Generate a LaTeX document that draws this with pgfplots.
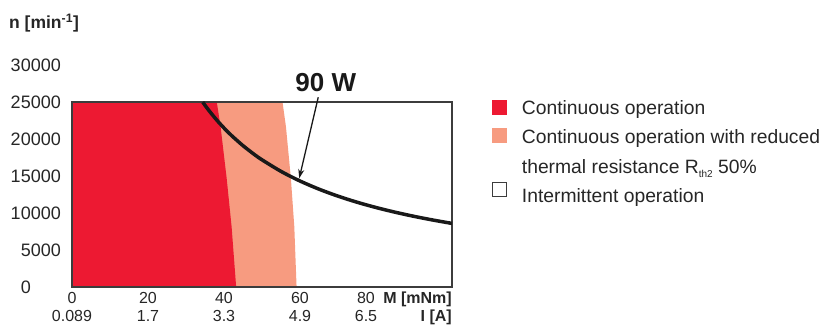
\documentclass[border=0pt]{standalone}
\usepackage{pgfplots}
\pgfplotsset{compat=1.18}
\usepackage{fontspec}
\setmainfont{Liberation Sans}
\usetikzlibrary{arrows.meta}
\definecolor{contred}{RGB}{237,25,50}
\definecolor{redsalmon}{RGB}{247,155,128}
\definecolor{framegray}{RGB}{60,60,60}
\definecolor{curveblack}{RGB}{25,25,25}
\begin{document}
\begin{tikzpicture}
\path[use as bounding box] (-72pt,-38pt) rectangle (753pt,287pt);
\begin{axis}[
  at={(0pt,0pt)}, anchor=south west,
  scale only axis, width=380pt, height=222pt,
  xmin=0, xmax=100, ymin=0, ymax=30000,
  axis line style={draw=none},
  major tick length=0pt,
  clip=false,
  xtick={0,20,40,60,80},
  xticklabels={0,20,40,60,{80\kern20pt}},
  ytick={0,5000,10000,15000,20000,25000,30000},
  yticklabels={{0\phantom{000}},5000,10000,15000,20000,25000,30000},
  yticklabel style={anchor=east, inner sep=0pt, xshift=-11pt, font=\fontsize{18}{20}\selectfont, text=black!85},
  xticklabel style={anchor=base, inner sep=0pt, yshift=-16.5pt, font=\fontsize{16}{18}\selectfont, text=black!85},
  extra x ticks={0,20,40,60,80},
  extra x tick labels={0.089,1.7,3.3,4.9,{6.5\kern20pt}},
  extra x tick style={grid=none, xticklabel style={yshift=-17.5pt}},
  /pgf/number format/assume math mode=true,
  scaled y ticks=false,
]
% continuous operation with reduced thermal resistance
\addplot[draw=none, fill=redsalmon] coordinates {
  (0,25000) (55.4,25000) (56.3,21670) (57.6,14700) (58.5,8150) (59.1,0)
} \closedcycle;
% continuous operation
\addplot[draw=none, fill=contred] coordinates {
  (0,25000) (38.1,25000) (39.1,21670) (40.7,14700) (42.0,8150) (43.2,0)
} \closedcycle;
% frame
\draw[framegray, line width=1.3pt] (axis cs:0,0) rectangle (axis cs:100,25000);
% 90 W limit
\addplot[curveblack, line width=3.5pt, smooth] coordinates {
  (34.4,24984) (36,23873) (38,22617) (40,21486) (42,20463) (45,19099)
  (48,17905) (50,17189) (55,15626) (60,14324) (65,13222) (70,12278)
  (75,11459) (80,10743) (85,10111) (90,9549) (95,9047) (100,8594)
};
\draw[curveblack, line width=1.3pt, -{Stealth[length=9pt,width=6pt]}] (axis cs:64.8,25635) -- (axis cs:59.8,14690);
\node[anchor=base, inner sep=0pt, font=\fontsize{26}{30}\selectfont\bfseries, text=curveblack] at (axis cs:66.8,26392) {90 W};
\end{axis}
% axis titles
\node[anchor=base west, inner sep=0pt, font=\fontsize{17.5}{20}\selectfont\bfseries, text=black!85] at (-63pt,258.7pt) {n [min\textsuperscript{-1}]};
\node[anchor=base east, inner sep=0pt, font=\fontsize{16}{18}\selectfont\bfseries, text=black!85] at (380pt,-16.5pt) {M [mNm]};
\node[anchor=base east, inner sep=0pt, font=\fontsize{16}{18}\selectfont\bfseries, text=black!85] at (380pt,-34pt) {I [A]};
% legend
\fill[contred] (420pt,172pt) rectangle (435pt,187pt);
\fill[redsalmon] (420pt,144pt) rectangle (435pt,159pt);
\draw[framegray, line width=0.9pt, fill=white] (420.5pt,90.5pt) rectangle (434.5pt,104.5pt);
\begin{scope}[every node/.style={anchor=base west, inner sep=0pt, font=\fontsize{19.3}{22}\selectfont, text=black!85}]
\node at (449.7pt,172.7pt) {Continuous operation};
\node at (449.7pt,143.7pt) {Continuous operation with reduced};
\node at (449.7pt,113.7pt) {thermal resistance R\raisebox{-4pt}{\fontsize{10}{12}\selectfont th2} 50\%};
\node at (449.7pt,84.7pt) {Intermittent operation};
\end{scope}
\end{tikzpicture}
\end{document}
